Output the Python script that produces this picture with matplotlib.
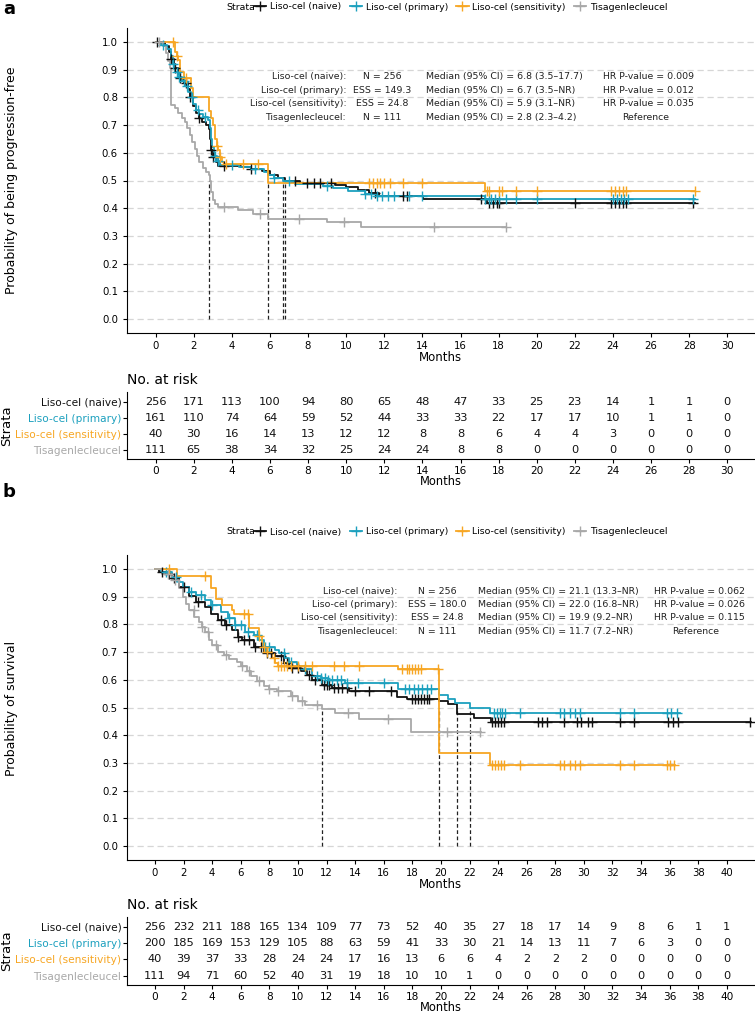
import matplotlib
matplotlib.use("Agg")
import matplotlib.pyplot as plt
from matplotlib.lines import Line2D
import numpy as np

# ---- data ----
strata = ["Liso-cel (naive)", "Liso-cel (primary)", "Liso-cel (sensitivity)", "Tisagenlecleucel"]
colors = ["#111111", "#1ca0be", "#f7a623", "#a8a8a8"]

# panel a: progression-free
pfs_naive_t = [0, 0.5, 0.7, 0.8, 0.95, 1.15, 1.3, 1.5, 1.7, 1.8, 1.95, 2.1, 2.3, 2.45, 2.65, 2.8, 2.85, 2.9, 3.0, 3.15, 3.3, 4.5, 5.0, 5.6, 6.0, 6.4, 6.8, 7.6, 9.4, 10.0, 10.6, 11.2, 11.7, 14.05, 17.4]
pfs_naive_s = [1.0, 0.985, 0.965, 0.94, 0.905, 0.885, 0.87, 0.85, 0.83, 0.80, 0.77, 0.745, 0.725, 0.71, 0.70, 0.685, 0.65, 0.61, 0.585, 0.565, 0.553, 0.548, 0.54, 0.535, 0.52, 0.51, 0.498, 0.492, 0.483, 0.475, 0.465, 0.455, 0.443, 0.433, 0.42]
pfs_primary_t = [0, 0.3, 0.6, 0.8, 0.9, 1.0, 1.2, 1.4, 1.6, 1.7, 1.85, 1.95, 2.1, 2.3, 2.5, 2.75, 2.85, 2.9, 2.95, 3.05, 3.2, 3.4, 4.4, 5.0, 5.7, 5.9, 6.2, 6.7, 7.3, 8.8, 9.3, 10.1, 11.0, 11.6, 17.3]
pfs_primary_s = [1.0, 0.99, 0.975, 0.95, 0.92, 0.89, 0.875, 0.86, 0.84, 0.82, 0.80, 0.775, 0.755, 0.74, 0.73, 0.72, 0.69, 0.65, 0.62, 0.59, 0.57, 0.557, 0.55, 0.54, 0.53, 0.52, 0.51, 0.497, 0.488, 0.48, 0.472, 0.462, 0.452, 0.443, 0.435]
pfs_sens_t = [0, 1.0, 1.1, 1.2, 1.3, 1.5, 1.85, 1.95, 2.8, 2.9, 3.0, 3.1, 3.2, 3.3, 3.4, 3.5, 3.6, 5.9, 17.3]
pfs_sens_s = [1.0, 0.965, 0.95, 0.935, 0.893, 0.87, 0.835, 0.80, 0.75, 0.725, 0.70, 0.65, 0.625, 0.61, 0.585, 0.567, 0.558, 0.49, 0.463]
pfs_tisa_t = [0, 0.4, 0.55, 0.65, 0.78, 0.83, 1.0, 1.2, 1.4, 1.55, 1.65, 1.8, 1.9, 2.05, 2.15, 2.3, 2.5, 2.65, 2.78, 2.85, 2.92, 3.0, 3.1, 3.25, 4.3, 5.1, 5.9, 9.0, 10.8]
pfs_tisa_s = [1.0, 0.985, 0.96, 0.93, 0.905, 0.773, 0.76, 0.745, 0.725, 0.71, 0.69, 0.665, 0.64, 0.615, 0.59, 0.565, 0.545, 0.53, 0.52, 0.50, 0.46, 0.43, 0.415, 0.405, 0.395, 0.378, 0.36, 0.35, 0.334]
pfs_end = [28.3, 28.3, 28.3, 18.4]
pfs_cens_naive = [0.1, 0.8, 1.0, 1.3, 1.6, 1.8, 2.3, 2.9, 3.0, 3.6, 5.0, 7.3, 7.95, 8.3, 8.65, 9.2, 11.5, 13.0, 13.2, 17.1, 17.5, 17.7, 17.9, 18.0, 22.0, 23.9, 24.1, 24.3, 24.5, 24.7, 28.2]
pfs_cens_primary = [0.4, 0.9, 1.1, 1.25, 1.5, 1.65, 1.9, 2.2, 2.6, 3.1, 3.3, 4.0, 5.2, 6.2, 7.0, 9.0, 11.0, 11.3, 11.6, 11.9, 12.2, 12.5, 13.3, 14.0, 17.3, 17.5, 17.6, 17.8, 18.0, 18.4, 18.9, 20.0, 24.0, 24.2, 24.4, 24.6, 24.8, 28.2]
pfs_cens_sens = [0.9, 1.1, 1.6, 3.2, 3.4, 3.7, 4.6, 5.4, 11.2, 11.4, 11.6, 11.8, 12.0, 12.3, 13.0, 14.0, 17.4, 17.5, 18.0, 18.2, 18.9, 20.0, 23.9, 24.1, 24.3, 24.5, 24.7, 28.3]
pfs_cens_tisa = [0.2, 3.6, 5.5, 7.5, 9.9, 14.6, 18.4]
pfs_median = [6.8, 6.7, 5.9, 2.8]
pfs_n = ["N = 256", "ESS = 149.3", "ESS = 24.8", "N = 111"]
pfs_med_txt = ["Median (95% CI) = 6.8 (3.5\u201317.7)", "Median (95% CI) = 6.7 (3.5\u2013NR)",
               "Median (95% CI) = 5.9 (3.1\u2013NR)", "Median (95% CI) = 2.8 (2.3\u20134.2)"]
pfs_hr = ["HR P-value = 0.009", "HR P-value = 0.012", "HR P-value = 0.035", "Reference"]
pfs_risk_x = list(range(0, 31, 2))
pfs_risk = [
    [256, 171, 113, 100, 94, 80, 65, 48, 47, 33, 25, 23, 14, 1, 1, 0],
    [161, 110, 74, 64, 59, 52, 44, 33, 33, 22, 17, 17, 10, 1, 1, 0],
    [40, 30, 16, 14, 13, 12, 12, 8, 8, 6, 4, 4, 3, 0, 0, 0],
    [111, 65, 38, 34, 32, 25, 24, 24, 8, 8, 0, 0, 0, 0, 0, 0],
]

# panel b: overall survival
os_naive_t = [0, 0.3, 0.75, 1.2, 1.7, 2.4, 2.9, 3.5, 3.9, 4.4, 4.9, 5.4, 5.8, 6.1, 6.9, 7.6, 8.4, 9.0, 9.4, 10.2, 10.6, 11.0, 11.7, 12.4, 13.6, 16.9, 17.6, 19.9, 20.5, 21.1, 22.3, 23.5]
os_naive_s = [1.0, 0.99, 0.98, 0.966, 0.935, 0.903, 0.88, 0.862, 0.838, 0.814, 0.796, 0.778, 0.753, 0.744, 0.717, 0.696, 0.684, 0.66, 0.642, 0.63, 0.618, 0.60, 0.582, 0.57, 0.561, 0.537, 0.532, 0.523, 0.512, 0.478, 0.463, 0.449]
os_primary_t = [0, 0.4, 1.2, 1.6, 1.95, 2.4, 2.9, 3.5, 3.9, 4.6, 5.1, 5.6, 6.3, 6.9, 7.2, 7.6, 8.4, 8.7, 9.1, 9.4, 9.9, 10.5, 11.0, 11.6, 12.1, 13.3, 17.0, 19.9, 20.5, 21.0, 22.0, 23.4]
os_primary_s = [1.0, 0.99, 0.972, 0.954, 0.935, 0.917, 0.905, 0.887, 0.869, 0.845, 0.821, 0.796, 0.772, 0.763, 0.742, 0.72, 0.708, 0.695, 0.68, 0.663, 0.65, 0.64, 0.615, 0.607, 0.60, 0.589, 0.565, 0.545, 0.53, 0.515, 0.497, 0.479]
os_sens_t = [0, 1.55, 3.95, 4.3, 4.7, 5.4, 5.55, 6.6, 7.25, 7.45, 7.75, 8.2, 8.4, 8.6, 17.0, 19.9, 23.4]
os_sens_s = [1.0, 0.976, 0.93, 0.89, 0.87, 0.85, 0.836, 0.786, 0.757, 0.72, 0.70, 0.677, 0.66, 0.648, 0.638, 0.337, 0.293]
os_tisa_t = [0, 0.5, 1.2, 1.7, 1.95, 2.2, 2.4, 2.75, 3.1, 3.3, 3.5, 3.8, 4.0, 4.4, 4.8, 5.2, 5.7, 6.0, 6.4, 6.7, 7.1, 7.6, 8.0, 8.5, 9.5, 10.0, 10.5, 11.7, 12.6, 14.3, 17.9]
os_tisa_s = [1.0, 0.982, 0.96, 0.93, 0.90, 0.875, 0.85, 0.826, 0.808, 0.79, 0.772, 0.742, 0.724, 0.70, 0.688, 0.675, 0.663, 0.651, 0.633, 0.615, 0.597, 0.579, 0.567, 0.558, 0.543, 0.525, 0.51, 0.495, 0.479, 0.457, 0.413]
os_end = [41.7, 36.7, 36.4, 22.8]
os_cens_naive = [0.5, 1.0, 1.3, 2.0, 3.0, 4.6, 5.0, 5.8, 6.2, 6.6, 7.0, 7.4, 7.8, 8.1, 8.8, 9.2, 9.6, 10.0, 10.8, 11.2, 11.8, 12.0, 12.2, 12.5, 12.8, 13.1, 13.4, 14.0, 15.0, 16.5, 18.0, 18.2, 18.4, 18.6, 18.8, 19.0, 19.2, 23.6, 23.8, 24.0, 24.2, 24.4, 26.8, 27.1, 27.4, 28.6, 29.5, 29.8, 30.3, 30.6, 32.5, 33.5, 35.9, 36.2, 36.6, 41.6]
os_cens_primary = [0.8, 1.5, 2.5, 3.2, 4.0, 5.2, 5.6, 6.0, 6.5, 7.1, 7.7, 8.0, 9.0, 9.5, 10.5, 11.3, 11.6, 11.9, 12.1, 12.4, 12.7, 13.0, 13.4, 14.2, 16.0, 17.5, 17.8, 18.1, 18.4, 18.7, 19.0, 19.3, 23.7, 23.9, 24.1, 24.3, 24.5, 25.5, 28.3, 28.6, 29.0, 29.4, 29.7, 32.5, 33.5, 35.8, 36.1, 36.5]
os_cens_sens = [1.0, 3.5, 6.2, 6.5, 7.3, 7.6, 7.8, 8.3, 8.6, 8.8, 9.0, 9.2, 9.5, 10.0, 10.5, 11.0, 12.5, 13.2, 14.3, 17.3, 17.6, 17.8, 18.0, 18.2, 18.4, 18.6, 19.8, 23.6, 23.8, 24.0, 24.2, 24.4, 25.5, 28.3, 28.6, 29.0, 29.4, 29.7, 32.5, 33.5, 35.8, 36.0, 36.3]
os_cens_tisa = [0.9, 1.4, 2.7, 3.3, 3.7, 4.3, 5.0, 6.1, 6.6, 7.3, 8.0, 8.6, 9.6, 10.3, 11.3, 13.5, 16.3, 20.4, 22.7]
os_median = [21.1, 22.0, 19.9, 11.7]
os_n = ["N = 256", "ESS = 180.0", "ESS = 24.8", "N = 111"]
os_med_txt = ["Median (95% CI) = 21.1 (13.3\u2013NR)", "Median (95% CI) = 22.0 (16.8\u2013NR)",
              "Median (95% CI) = 19.9 (9.2\u2013NR)", "Median (95% CI) = 11.7 (7.2\u2013NR)"]
os_hr = ["HR P-value = 0.062", "HR P-value = 0.026", "HR P-value = 0.115", "Reference"]
os_risk_x = list(range(0, 41, 2))
os_risk = [
    [256, 232, 211, 188, 165, 134, 109, 77, 73, 52, 40, 35, 27, 18, 17, 14, 9, 8, 6, 1, 1],
    [200, 185, 169, 153, 129, 105, 88, 63, 59, 41, 33, 30, 21, 14, 13, 11, 7, 6, 3, 0, 0],
    [40, 39, 37, 33, 28, 24, 24, 17, 16, 13, 6, 6, 4, 2, 2, 2, 0, 0, 0, 0, 0],
    [111, 94, 71, 60, 52, 40, 31, 19, 18, 10, 10, 1, 0, 0, 0, 0, 0, 0, 0, 0, 0],
]

W, H = 755, 1015
fig = plt.figure(figsize=(W / 100, H / 100), dpi=100)


def fy(px):
    return 1 - px / H


def surv_at(t, s, x):
    idx = np.searchsorted(t, x, side="right") - 1
    return np.array(s)[idx]


def km_panel(ax, curves, ends, cens, medians, xlim, xticks):
    for (t, s), end, c, col in zip(curves, ends, cens, colors):
        tt = list(t) + [end]
        ss = list(s) + [s[-1]]
        ax.step(tt, ss, where="post", color=col, lw=1.3, zorder=3)
        cy = surv_at(t, s, c)
        ax.plot(c, cy, ls="none", marker="+", ms=7, mew=1.0, color=col, zorder=4)
    ax.vlines(medians, 0, 0.5, colors="#222222", linestyles=(0, (3, 2)), lw=0.9, zorder=2)
    ax.set_xlim(*xlim)
    ax.set_ylim(-0.05, 1.05)
    ax.set_xticks(xticks)
    ax.set_yticks(np.arange(0, 1.01, 0.1))
    ax.set_yticklabels([f"{v:.1f}" for v in np.arange(0, 1.01, 0.1)])
    ax.yaxis.grid(True, linestyle=(0, (5, 3)), color="#d6d6d6", lw=0.9)
    ax.set_axisbelow(True)
    for sp in ["top", "right"]:
        ax.spines[sp].set_visible(False)
    ax.tick_params(labelsize=7.3, length=3, width=0.8)
    ax.tick_params(axis="x", pad=2.5)
    ax.set_xlabel("Months", fontsize=8.5, labelpad=0)


def annotate(ax, xs, ys, ns, meds, hrs):
    for i in range(4):
        kw = dict(fontsize=6.75, va="center", color="#222222")
        ax.text(xs[0], ys[i], strata[i] + ":", ha="right", **kw)
        ax.text(xs[1], ys[i], ns[i], ha="center", **kw)
        ax.text(xs[2], ys[i], meds[i], ha="left", **kw)
        if hrs[i] == "Reference":
            ax.text(xs[4], ys[i], hrs[i], ha="center", **kw)
        else:
            ax.text(xs[3], ys[i], hrs[i], ha="left", **kw)


def risk_table(ax, xs, risk, xlim):
    for r, row in enumerate(risk):
        for x, v in zip(xs, row):
            ax.text(x, 4 - r, str(v), ha="center", va="center", fontsize=8.2, color="#111111")
    ax.set_xlim(*xlim)
    ax.set_ylim(0.42, 4.6)
    ax.set_xticks(xs)
    ax.set_yticks([4, 3, 2, 1])
    ax.set_yticklabels(strata, fontsize=7.6)
    for lab, col in zip(ax.get_yticklabels(), colors):
        lab.set_color(col)
    for sp in ["top", "right"]:
        ax.spines[sp].set_visible(False)
    ax.tick_params(axis="x", labelsize=7.6, length=3, width=0.8, pad=2)
    ax.tick_params(axis="y", length=3, width=0.8, pad=1)
    ax.set_xlabel("Months", fontsize=8.3, labelpad=-1)
    ax.set_ylabel("Strata", fontsize=9.5, labelpad=2)
    ax.set_title("No. at risk", loc="left", fontsize=10, pad=6)


def legend(ypx):
    fig.text(226 / W, fy(ypx), "Strata", fontsize=6.75, va="center", ha="left")
    handles = [Line2D([], [], color=c, marker="+", ms=7, mew=1.0, lw=1.3) for c in colors]
    fig.legend(handles, strata, loc="center left", bbox_to_anchor=(254 / W, fy(ypx)),
               ncol=4, frameon=False, fontsize=6.75, handlelength=1.3, handletextpad=0.4,
               columnspacing=0.9, borderaxespad=0, borderpad=0)


left = 127 / W
width = (754 - 127) / W

# ---- panel a ----
ax_a = fig.add_axes([left, fy(333), width, (333 - 28) / H])
km_panel(ax_a,
         [(pfs_naive_t, pfs_naive_s), (pfs_primary_t, pfs_primary_s),
          (pfs_sens_t, pfs_sens_s), (pfs_tisa_t, pfs_tisa_s)],
         pfs_end, [pfs_cens_naive, pfs_cens_primary, pfs_cens_sens, pfs_cens_tisa],
         pfs_median, (-1.5, 31.4), pfs_risk_x)
annotate(ax_a, [10.0, 11.9, 14.2, 23.5, 25.7], [0.875, 0.826, 0.777, 0.728],
         pfs_n, pfs_med_txt, pfs_hr)
fig.text(12 / W, fy(180), "Probability of being progression-free", rotation=90,
         ha="center", va="center", fontsize=9)
legend(7)
fig.text(3 / W, fy(9), "a", fontsize=13, fontweight="bold", va="center", ha="left")

tab_a = fig.add_axes([left, fy(459), width, (459 - 392) / H])
risk_table(tab_a, pfs_risk_x, pfs_risk, (-1.5, 31.4))

# ---- panel b ----
ax_b = fig.add_axes([left, fy(860), width, (860 - 555) / H])
km_panel(ax_b,
         [(os_naive_t, os_naive_s), (os_primary_t, os_primary_s),
          (os_sens_t, os_sens_s), (os_tisa_t, os_tisa_s)],
         os_end, [os_cens_naive, os_cens_primary, os_cens_sens, os_cens_tisa],
         os_median, (-1.96, 41.9), os_risk_x)
annotate(ax_b, [16.96, 19.76, 22.56, 34.9, 37.8], [0.92, 0.872, 0.823, 0.775],
         os_n, os_med_txt, os_hr)
fig.text(12 / W, fy(708), "Probability of survival", rotation=90,
         ha="center", va="center", fontsize=9)
legend(532)
fig.text(3 / W, fy(492), "b", fontsize=13, fontweight="bold", va="center", ha="left")

tab_b = fig.add_axes([left, fy(985), width, (985 - 917) / H])
risk_table(tab_b, os_risk_x, os_risk, (-1.96, 41.9))

fig.savefig("out.png", dpi=100)
